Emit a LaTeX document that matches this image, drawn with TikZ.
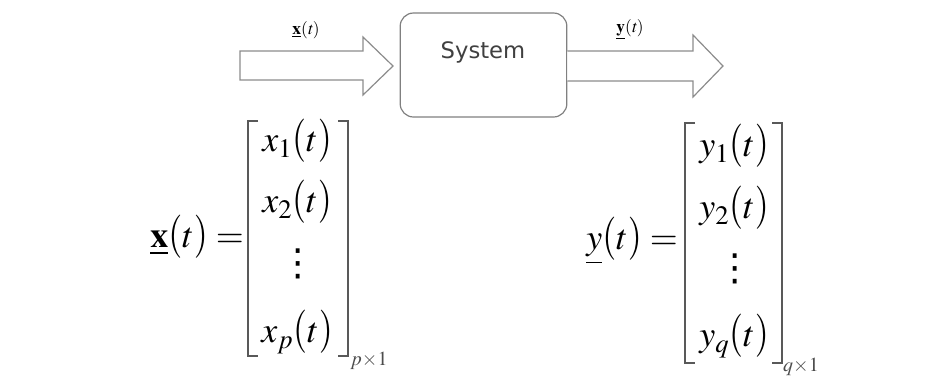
\documentclass[tikz,border=0pt]{standalone}
\usepackage{mathptmx}
\usepackage{fontspec}
\setsansfont{DejaVu Sans}
\newfontfamily\dotsfont{DejaVu Sans}
\usepackage{graphicx}
\newcommand{\pt}{\mathopen{\scalebox{1}[1.2]{$($}}t\mathclose{\scalebox{1}[1.2]{$)$}}}
\newcommand{\mydots}{{\dotsfont\fontsize{28}{30}\selectfont ⋮}}
\begin{document}
\begin{tikzpicture}[x=0.75pt,y=-0.75pt,
  blockarrow/.style={draw=black!45,fill=white,line width=0.9pt,line join=miter},
  sysbox/.style={draw=black!50,line width=0.9pt,rounded corners=10pt,minimum width=125pt,minimum height=78pt,inner sep=0pt},
  brk/.style={draw=black!65,line width=1.6pt},
  ent/.style={inner sep=0pt,font=\fontsize{27}{30}\selectfont},
  lhs/.style={inner sep=0pt,font=\fontsize{27}{30}\selectfont},
  sub/.style={inner sep=0pt,font=\fontsize{15}{18}\selectfont,text=black!70},
  alab/.style={inner sep=0pt,font=\fontsize{13}{15}\selectfont}]
\useasboundingbox (0,0) rectangle (926,380);
% system
\node[sysbox] (sys) at (483.5,65) {};
\node[inner sep=0pt,font=\sffamily\fontsize{17}{20}\selectfont,text=black!75] (systxt) at (483,52) {System};
% input arrow
\draw[blockarrow] (240,51) -- (363,51) -- (363,37) -- (393,66) -- (363,95) -- (363,80) -- (240,80) -- cycle;
\node[alab] (xlab) at (306,30) {$\underline{\mathbf{x}}\mathit{(t)}$};
% output arrow
\draw[blockarrow] (sys.east |- 0,51) -- (693,51) -- (693,35) -- (723,66) -- (693,97) -- (693,81) -- (sys.east |- 0,81);
\node[alab] (ylab) at (630,29) {$\underline{\mathbf{y}}\mathit{(t)}$};
% left vector
\node[lhs] (xl) at (197,237) {$\underline{\mathbf{x}}\pt=$};
\draw[brk] (258,121) -- (248,121) -- (248,356) -- (258,356);
\draw[brk] (338,121) -- (348,121) -- (348,356) -- (338,356);
\node[ent] (x1) at (297,141) {$x_1\pt$};
\node[ent] (x2) at (297,202) {$x_2\pt$};
\node[inner sep=0pt] (xd) at (298,264) {\mydots};
\node[ent] (xp) at (297,332) {$x_p\pt$};
\node[sub] (pl) at (369,361) {$p{\times}1$};
% right vector
\node[lhs] (yl) at (632,241) {$\underline{y}\pt=$};
\draw[brk] (695,123) -- (685,123) -- (685,363) -- (695,363);
\draw[brk] (772,123) -- (782,123) -- (782,363) -- (772,363);
\node[ent] (y1) at (734,146) {$y_1\pt$};
\node[ent] (y2) at (734,208) {$y_2\pt$};
\node[inner sep=0pt] (yd) at (735,269) {\mydots};
\node[ent] (yq) at (734,336) {$y_q\pt$};
\node[sub] (ql) at (801,367) {$q{\times}1$};
\end{tikzpicture}
\end{document}
